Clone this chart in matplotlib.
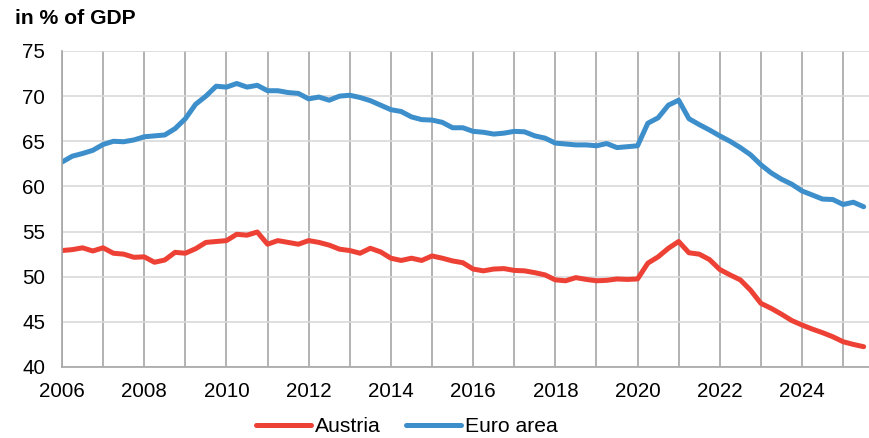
import matplotlib
matplotlib.use("Agg")
import matplotlib.pyplot as plt
import numpy as np

plt.rcParams['font.family'] = ['Liberation Sans', 'DejaVu Sans']

# Quarterly data, 2006 Q1 .. 2025 Q3
anios = [2006 + i / 4 for i in range(79)]

austria = [
    52.9, 53.0, 53.2, 52.85, 53.2, 52.6, 52.5, 52.15,
    52.2, 51.6, 51.85, 52.7, 52.6, 53.1, 53.8, 53.9,
    54.0, 54.7, 54.6, 54.95, 53.6, 54.0, 53.8, 53.6,
    54.0, 53.8, 53.5, 53.05, 52.9, 52.6, 53.15, 52.75,
    52.05, 51.8, 52.05, 51.8, 52.3, 52.05, 51.75, 51.55,
    50.85, 50.65, 50.85, 50.9, 50.7, 50.65, 50.45, 50.2,
    49.65, 49.55, 49.9, 49.7, 49.55, 49.6, 49.75, 49.7,
    49.75, 51.5, 52.2, 53.15, 53.9, 52.65, 52.5, 51.9,
    50.8, 50.2, 49.65, 48.5, 47.05, 46.5, 45.85, 45.15,
    44.65, 44.2, 43.8, 43.35, 42.8, 42.5, 42.25,
]

euro = [
    62.7, 63.35, 63.65, 64.0, 64.65, 65.0, 64.95, 65.15,
    65.5, 65.6, 65.7, 66.4, 67.5, 69.1, 70.0, 71.1,
    71.0, 71.4, 71.0, 71.2, 70.6, 70.6, 70.4, 70.3,
    69.7, 69.9, 69.55, 70.0, 70.1, 69.85, 69.5, 69.0,
    68.5, 68.3, 67.7, 67.4, 67.35, 67.1, 66.5, 66.5,
    66.1, 66.0, 65.8, 65.9, 66.1, 66.05, 65.6, 65.35,
    64.8, 64.7, 64.6, 64.6, 64.5, 64.75, 64.3, 64.4,
    64.5, 67.0, 67.6, 69.0, 69.55, 67.5, 66.85, 66.25,
    65.6, 65.0, 64.3, 63.5, 62.4, 61.5, 60.8, 60.25,
    59.5, 59.05, 58.6, 58.55, 58.0, 58.25, 57.75,
]

fig = plt.figure(figsize=(8.69, 4.38), dpi=100)
ax = fig.add_axes([62 / 869, 1 - 367 / 438, 1 - 62 / 869, (367 - 51) / 438])

ax.plot(anios, austria, color="#EE4136", lw=3.6, label="Austria", solid_capstyle="round")
ax.plot(anios, euro, color="#3D8FCC", lw=3.6, label="Euro area", solid_capstyle="round")

ax.set_xlim(2006, 2025.63)
ax.set_ylim(40, 75)
ax.set_yticks(np.arange(40, 76, 5))
ax.set_xticks(range(2006, 2026), minor=False)
ax.set_xticklabels([str(a) if a % 2 == 0 else "" for a in range(2006, 2026)])

# Rejilla
ax.grid(axis="y", color="#d9d9d9", lw=1.2)
ax.grid(axis="x", color="#a6a6a6", lw=1.2)
ax.set_axisbelow(True)
for lado in ["top", "right"]:
    ax.spines[lado].set_visible(False)
for lado in ["left", "bottom"]:
    ax.spines[lado].set_color("#a6a6a6")
    ax.spines[lado].set_linewidth(1.2)
ax.tick_params(length=0, labelsize=14.8)
ax.tick_params(axis="y", pad=12)
ax.tick_params(axis="x", pad=11)

fig.text(15 / 869, 1 - 18 / 438, "in % of GDP", fontsize=15.2, fontweight="bold",
         va="center", ha="left")

fig.legend(loc="center", bbox_to_anchor=(0.468, 1 - 427 / 438), ncol=2, frameon=False,
           fontsize=15.2, handlelength=2.6, handletextpad=0.2, columnspacing=1.2)

fig.savefig("out.png", dpi=100)
